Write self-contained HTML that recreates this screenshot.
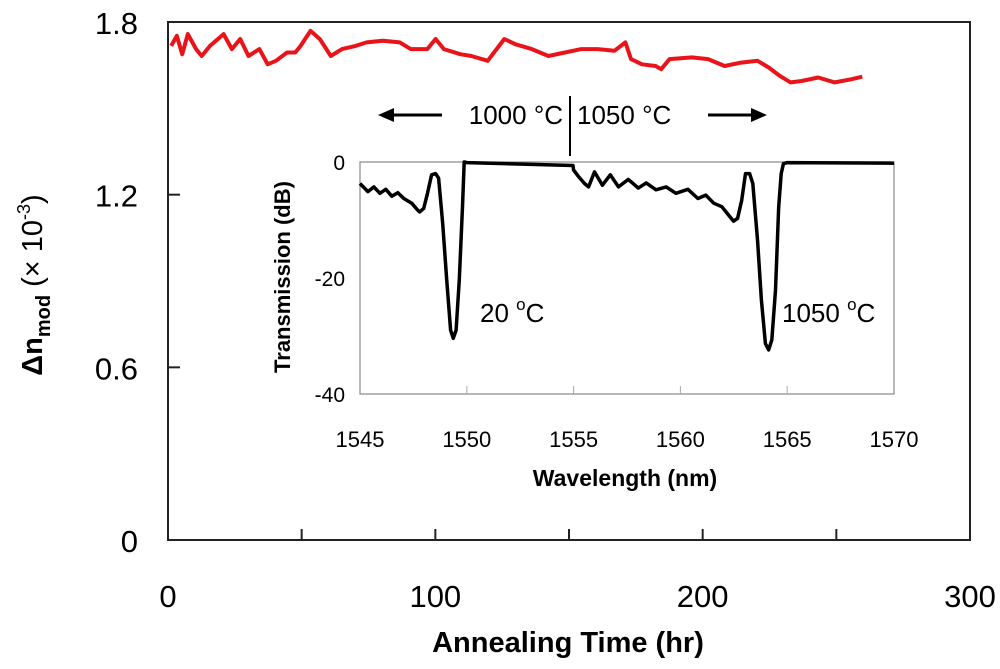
<!DOCTYPE html>
<html><head><meta charset="utf-8"><style>
html,body{margin:0;padding:0;background:#fff;}
svg{display:block;font-family:"Liberation Sans",Arial,sans-serif;}
</style></head><body>
<svg id="chart" width="1000" height="669" viewBox="0 0 1000 669">
<rect x="168" y="22" width="802" height="518" fill="none" stroke="#222" stroke-width="2"/>
<g id="mainTicks"></g>
<path id="redLine" fill="none" stroke="#e8141a" stroke-width="4" stroke-linejoin="round"/>
<text x="42" y="285" transform="rotate(-90 42 285)" text-anchor="middle" font-size="29" font-weight="bold">Δn<tspan font-size="20" dy="8">mod</tspan><tspan dy="-8" font-weight="normal"> (× 10</tspan><tspan font-size="18" dy="-12" font-weight="normal">-3</tspan><tspan dy="12" font-weight="normal">)</tspan></text>
<text x="568" y="652" text-anchor="middle" font-size="29" font-weight="bold">Annealing Time (hr)</text>
<line x1="570" y1="96" x2="570" y2="156" stroke="#000" stroke-width="2"/>
<text x="563" y="124" text-anchor="end" font-size="26">1000 °C</text>
<text x="577" y="124" font-size="26">1050 °C</text>
<g><line x1="390" y1="115" x2="442" y2="115" stroke="#000" stroke-width="3"/><polygon points="378,115 394,108 394,122" fill="#000"/></g>
<g><line x1="708" y1="115" x2="755" y2="115" stroke="#000" stroke-width="3"/><polygon points="767,115 751,108 751,122" fill="#000"/></g>
<rect x="360" y="162" width="534" height="232" fill="#fff" stroke="#888" stroke-width="1.2"/>
<g id="insetTicks"></g>
<path id="specLine" fill="none" stroke="#000" stroke-width="3.5" stroke-linejoin="round"/>
<text x="290" y="277" transform="rotate(-90 290 277)" text-anchor="middle" font-size="22" font-weight="bold">Transmission (dB)</text>
<text x="625" y="486" text-anchor="middle" font-size="23" font-weight="bold">Wavelength (nm)</text>
<text x="480" y="322" font-size="26">20 <tspan font-size="17" dy="-12">o</tspan><tspan dy="12">C</tspan></text>
<text x="782" y="322" font-size="26">1050 <tspan font-size="17" dy="-12">o</tspan><tspan dy="12">C</tspan></text>
</svg>
<script>
const timeHr=[1.2,3.3,5.3,7.4,10.5,12.6,15.7,20.8,23.9,27,30.1,34.2,37.3,40.4,44.5,47.6,49.6,53.3,56.8,60.9,65.1,70.2,74.3,80.5,86.7,90.8,97,100.1,103.2,109.3,113.5,119.6,125.8,129.9,136.1,142.3,148.5,154.6,160.8,167,171.1,173.2,177.3,182.4,184.5,187.6,195.9,202,208.2,214.4,220.5,224.7,228.8,232.9,237,243.2,249.4,255.5,259.7];
const deltaN=[1.717,1.752,1.688,1.758,1.706,1.682,1.717,1.758,1.706,1.741,1.682,1.706,1.653,1.665,1.694,1.694,1.717,1.769,1.741,1.682,1.706,1.717,1.729,1.735,1.729,1.706,1.706,1.741,1.706,1.688,1.682,1.665,1.741,1.723,1.706,1.682,1.694,1.706,1.706,1.700,1.729,1.671,1.653,1.647,1.636,1.671,1.677,1.671,1.647,1.659,1.665,1.642,1.613,1.590,1.595,1.607,1.590,1.601,1.610];
const yTickLabels=["0","0.6","1.2","1.8"];
const yTickValues=[0,0.6,1.2,1.8];
const xTickLabels=["0","100","200","300"];
const xTickValues=[0,100,200,300];
const wavelength=[1545.0,1545.37,1545.65,1545.93,1546.21,1546.49,1546.77,1547.05,1547.42,1547.7,1547.79,1547.98,1548.16,1548.35,1548.54,1548.68,1548.87,1549.06,1549.24,1549.37,1549.5,1549.65,1549.8,1549.88,1550.02,1554.97,1555.0,1555.23,1555.51,1555.7,1555.98,1556.35,1556.72,1557.1,1557.56,1558.03,1558.4,1558.86,1559.33,1559.79,1560.35,1560.82,1561.19,1561.56,1561.94,1562.31,1562.49,1562.68,1562.87,1563.05,1563.24,1563.39,1563.61,1563.79,1563.98,1564.13,1564.28,1564.45,1564.6,1564.72,1564.82,1565.0,1570.0];
const transmission=[-3.7,-5.1,-4.3,-5.4,-4.7,-5.9,-5.3,-6.3,-7.1,-8.3,-8.6,-8.0,-5.4,-2.2,-2.0,-2.8,-10.6,-20.3,-29.0,-30.4,-29.0,-20.3,-7.7,0,-0.1,-0.6,-1.4,-2.5,-3.7,-4.3,-1.7,-4.0,-2.2,-4.3,-3.0,-4.5,-3.6,-4.8,-4.3,-5.4,-4.7,-6.3,-5.7,-7.1,-7.7,-9.4,-10.2,-9.7,-6.6,-2.0,-2.0,-3.7,-13.4,-23.8,-31.3,-32.4,-30.7,-22.1,-7.7,-2.0,-0.3,-0.1,-0.2];
const insetXTicks=[1545,1550,1555,1560,1565,1570];
const insetYTicks=[0,-20,-40];

const NS="http://www.w3.org/2000/svg";
const X=t=>168+(t/300)*802;
const Y=v=>540-(v/1.8)*518;
const IX=w=>360+(w-1545)/25*534;
const IY=d=>162-(d/40)*232;
function mk(tag,attrs,parent,txt){const e=document.createElementNS(NS,tag);for(const k in attrs)e.setAttribute(k,attrs[k]);if(txt!==undefined)e.textContent=txt;parent.appendChild(e);return e;}
const mt=document.getElementById('mainTicks');
yTickValues.forEach((v,i)=>{
  if(v>0&&v<1.8){const l=mk('line',{x1:168,x2:180,y1:Y(v),y2:Y(v),stroke:'#222','stroke-width':2},mt);
  
  }
  const t=mk('text',{x:138,y:Y(v)+12,'text-anchor':'end','font-size':31},mt,yTickLabels[i]);
  
  
});
for(let h=50;h<300;h+=50){const l=mk('line',{x1:X(h),x2:X(h),y1:540,y2:529,stroke:'#222','stroke-width':2},mt);
  
  }
xTickValues.forEach((v,i)=>{
  const t=mk('text',{x:X(v),y:607,'text-anchor':'middle','font-size':31},mt,xTickLabels[i]);
  
  
});
document.getElementById('redLine').setAttribute('d',timeHr.map((t,i)=>(i?'L':'M')+X(t).toFixed(1)+','+Y(deltaN[i]).toFixed(1)).join(''));
const it=document.getElementById('insetTicks');
insetXTicks.forEach(w=>{
  if(w>1545&&w<1570){const l=mk('line',{x1:IX(w),x2:IX(w),y1:394,y2:386,stroke:'#aaa','stroke-width':1},it);
  
  }
  const t=mk('text',{x:IX(w),y:447,'text-anchor':'middle','font-size':22},it,String(w));
  
  
});
insetYTicks.forEach(d=>{
  const t=mk('text',{x:345,y:IY(d)+8,'text-anchor':'end','font-size':21},it,String(d));
  
  
});
document.getElementById('specLine').setAttribute('d',wavelength.map((w,i)=>(i?'L':'M')+IX(w).toFixed(1)+','+IY(transmission[i]).toFixed(1)).join(''));
</script>
</body></html>
